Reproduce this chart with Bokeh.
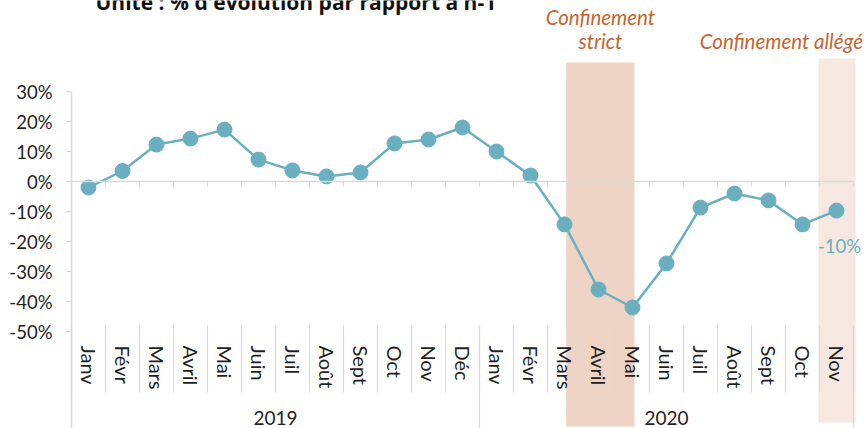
from bokeh.plotting import figure
from bokeh.models import (Range1d, LinearAxis, FixedTicker, PrintfTickFormatter)
from bokeh.core.properties import value
from bokeh.embed import file_html
from bokeh.resources import INLINE

# ---- data ----
years = ["2019", "2020"]
months_2019 = ["Janv", "Févr", "Mars", "Avril", "Mai", "Juin", "Juil", "Août", "Sept", "Oct", "Nov", "Déc"]
months_2020 = ["Janv", "Févr", "Mars", "Avril", "Mai", "Juin", "Juil", "Août", "Sept", "Oct", "Nov"]
values_2019 = [-2.0, 3.5, 12.3, 14.3, 17.3, 7.3, 3.7, 1.7, 3.0, 12.7, 14.0, 18.0]
values_2020 = [10.0, 2.0, -14.3, -36.0, -42.0, -27.3, -8.7, -4.0, -6.3, -14.3, -9.7]
y_ticks = [-50, -40, -30, -20, -10, 0, 10, 20, 30]
title_text = "Unité : % d'évolution par rapport à n-1"
strict_label = ["Confinement", "strict"]
strict_period = ("Mars", "Mai")      # 2020
light_label = "Confinement allégé"
light_period = "Nov"                 # 2020

# ---- derived positions (category index space) ----
months = months_2019 + months_2020
vals = values_2019 + values_2020
n = len(months)
centers = [i + 0.5 for i in range(n)]
bounds = list(range(n + 1))
off20 = len(months_2019)
group_edges = [0, off20, n]
group_centers = [off20 / 2, off20 + len(months_2020) / 2]

W, H = 868, 428
LINE = "#6AAFBF"
TXT = "#1F1F1F"
GRID = "#D9D9D9"
ORANGE = "#C4652F"
FONT = "Lato"

p = figure(width=W, height=H, output_backend="svg", toolbar_location=None,
           x_range=Range1d(-71 / 34, (W - 71) / 34),
           y_range=Range1d(-(H - 181) / 3, 181 / 3),
           x_axis_location=None, y_axis_location=None,
           min_border=0, min_border_left=0, min_border_right=0,
           min_border_top=0, min_border_bottom=0)
p.outline_line_color = None
p.background_fill_color = "white"
p.border_fill_color = "white"
p.grid.visible = False
p.center = []

# confinement bands
i_s0 = off20 + months_2020.index(strict_period[0])
i_s1 = off20 + months_2020.index(strict_period[1])
i_l = off20 + months_2020.index(light_period)
p.quad(left=[i_s0 + 0.55], right=[i_s1 + 0.56], bottom=[-81.7], top=[39.7],
       fill_color="#EED4C4", line_color=None)
p.quad(left=[i_l - 0.03], right=[i_l + 1.06], bottom=[-80.3], top=[41.0],
       fill_color="#F6E8E0", line_color=None)

def hidden_label_axis(ax):
    ax.major_label_text_color = None
    ax.minor_tick_line_color = None
    ax.major_tick_in = 0

# zero line with ticks at category boundaries
ax0 = LinearAxis(fixed_location=0, ticker=FixedTicker(ticks=bounds), bounds=(0, n))
hidden_label_axis(ax0)
ax0.axis_line_color = GRID
ax0.axis_line_width = 1.5
ax0.major_tick_line_color = GRID
ax0.major_tick_line_width = 1.2
ax0.major_tick_out = 5
p.add_layout(ax0, "below")

# category separators in label area
axs = LinearAxis(fixed_location=-48, ticker=FixedTicker(ticks=bounds))
hidden_label_axis(axs)
axs.axis_line_color = None
axs.major_tick_line_color = GRID
axs.major_tick_line_width = 1.2
axs.major_tick_out = 67
p.add_layout(axs, "below")

axg = LinearAxis(fixed_location=-48, ticker=FixedTicker(ticks=group_edges))
hidden_label_axis(axg)
axg.axis_line_color = None
axg.major_tick_line_color = GRID
axg.major_tick_line_width = 1.2
axg.major_tick_out = 103
p.add_layout(axg, "below")

# month labels
axm = LinearAxis(fixed_location=-51.3, ticker=FixedTicker(ticks=centers),
                 major_label_overrides={c: m for c, m in zip(centers, months)})
axm.axis_line_color = None
axm.major_tick_line_color = None
axm.minor_tick_line_color = None
axm.major_label_orientation = "vertical"
axm.major_label_standoff = 4
axm.major_label_text_font = FONT
axm.major_label_text_font_size = "20px"
axm.major_label_text_color = TXT
p.add_layout(axm, "below")

# year labels
axy = LinearAxis(fixed_location=-74.0, ticker=FixedTicker(ticks=group_centers),
                 major_label_overrides={c: y for c, y in zip(group_centers, years)})
axy.axis_line_color = None
axy.major_tick_line_color = None
axy.minor_tick_line_color = None
axy.major_label_standoff = 1
axy.major_label_text_font = FONT
axy.major_label_text_font_size = "19px"
axy.major_label_text_color = TXT
p.add_layout(axy, "below")

# y axis
ya = LinearAxis(fixed_location=0, ticker=FixedTicker(ticks=y_ticks),
                formatter=PrintfTickFormatter(format="%d%%"),
                bounds=(-(H - 181) / 3, max(y_ticks)))
ya.axis_line_color = GRID
ya.axis_line_width = 1.5
ya.major_tick_line_color = GRID
ya.major_tick_line_width = 1.2
ya.major_tick_out = 5
ya.major_tick_in = 0
ya.minor_tick_line_color = None
ya.major_label_standoff = 14
ya.major_label_text_font = FONT
ya.major_label_text_font_size = "18.5px"
ya.major_label_text_color = TXT
p.add_layout(ya, "left")

# series
p.line(centers, vals, line_color=LINE, line_width=2.5)
p.scatter(centers, vals, size=15, fill_color=LINE, line_color=LINE)

# last value label
p.text(x=[centers[-1]], y=[vals[-1]], text=[f"{round(vals[-1])}%"],
       x_offset=3, y_offset=35, text_align="center", text_baseline="middle",
       text_font=value(FONT), text_font_size="18.5px", text_color=LINE)

# annotations
sc = (i_s0 + 0.55 + i_s1 + 0.56) / 2
p.text(x=[sc, sc], y=[55.0, 46.7], text=strict_label,
       text_align="center", text_baseline="middle",
       text_font=value(FONT), text_font_style="italic",
       text_font_size="20.5px", text_color=ORANGE)
p.text(x=[i_l - 1.12], y=[46.7], text=[light_label],
       text_align="center", text_baseline="middle",
       text_font=value(FONT), text_font_style="italic",
       text_font_size="20.5px", text_color=ORANGE)

# title (cut off at top in the original)
p.text(x=[(95 - 71) / 34], y=[59.7], text=[title_text],
       text_align="left", text_baseline="alphabetic",
       text_font=value("Open Sans"), text_font_style="bold",
       text_font_size="21px", text_color="#111111")

html = file_html(p, INLINE)
html = html.replace("<head>", "<head><style>html,body{margin:0;padding:0;overflow:hidden}</style>", 1)
open("out.html", "w").write(html)
